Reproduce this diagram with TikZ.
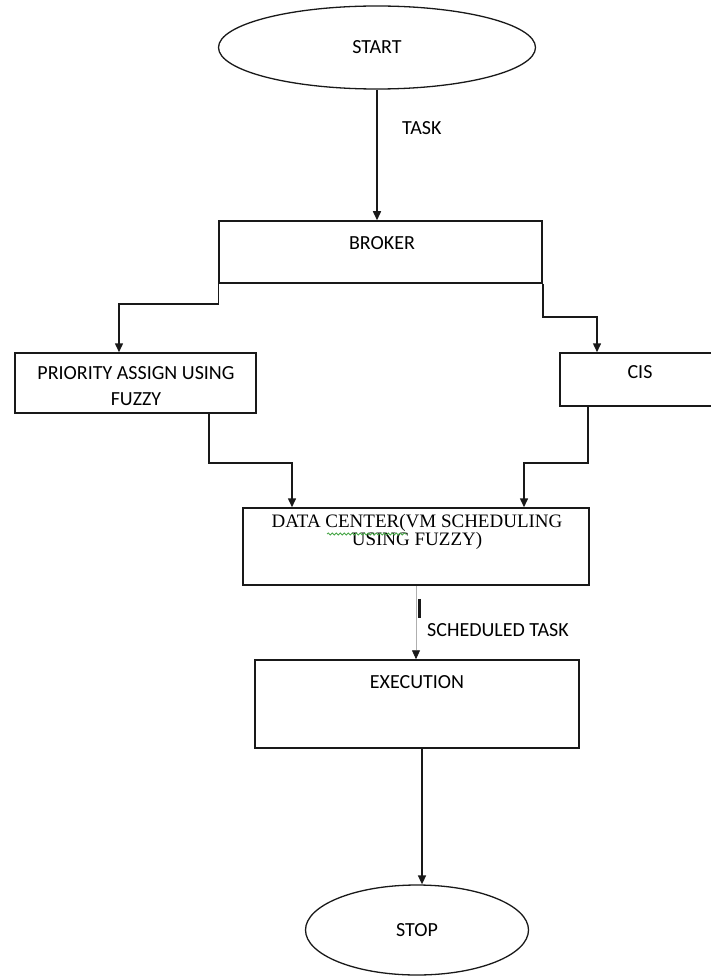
\documentclass[tikz,border=0pt]{standalone}
\usepackage{fontspec}
\setmainfont{Carlito}
\newfontfamily\dcfont{Liberation Serif}
\usetikzlibrary{arrows.meta,shapes.geometric,decorations.pathmorphing}

\definecolor{myline}{RGB}{25,25,25}
\definecolor{mygrey}{RGB}{175,175,175}
\definecolor{mygreen}{RGB}{70,165,70}

\tikzset{
  flowbox/.style={draw=myline,line width=1.5pt,rectangle,inner sep=0pt},
  termbox/.style={draw=myline,line width=1.3pt,ellipse,inner sep=0pt,
                  font=\fontsize{20}{26}\selectfont},
  flowarrow/.style={draw=myline,line width=1.5pt,-{Triangle[width=8pt,length=9pt]}},
  boxtext/.style={font=\fontsize{20}{26}\selectfont,align=center,inner sep=0pt},
}

\begin{document}
\begin{tikzpicture}[x=1pt,y=-1pt]
 \useasboundingbox (0,0) rectangle (711,976);

  % terminals
  \node[termbox,minimum width=317pt,minimum height=83pt] (start) at (377,47.5) {START};
  \node[termbox,minimum width=223pt,minimum height=90pt] (stop)  at (417,930)  {STOP};

  % boxes
  \node[flowbox,minimum width=323pt,minimum height=62pt] (broker) at (380.5,252)  {};
  \node[flowbox,minimum width=241pt,minimum height=60pt] (prio)   at (135.5,383)  {};
  \node[flowbox,minimum width=156pt,minimum height=53pt] (cis)    at (638,379.5)  {};
  \node[flowbox,minimum width=346pt,minimum height=77pt] (dc)     at (416,546.5)  {};
  \node[flowbox,minimum width=324pt,minimum height=88pt] (exec)   at (417,704)    {};

  % box texts
  \node[boxtext] (brokertxt) at (382,243) {BROKER};
  \node[boxtext] (priotxt)   at (136,386.5) {PRIORITY ASSIGN USING\\FUZZY};
  \node[boxtext] (cistxt)    at (640,372) {CIS};
  \node[boxtext,font=\dcfont\fontsize{19}{17}\selectfont] (dctxt) at (417,532)
       {DATA CENTER(VM SCHEDULING\\USING FUZZY)};
  \node[boxtext] (exectxt)   at (417,682) {EXECUTION};
  \draw[mygreen,line width=0.8pt,decorate,decoration={snake,amplitude=1pt,segment length=4pt}]
    (327,534) -- (407,534);

  % connectors
  \draw[flowarrow] (start.south) -- (start.south |- broker.north);
  \node[boxtext,anchor=west] (tasklbl) at (402,128) {TASK};
  \draw[flowarrow] (broker.south west) -- ++(0,20) -| ([xshift=-16.5pt]prio.north);
  \draw[flowarrow] (broker.south east) -- ++(0,33) -| ([xshift=-41pt]cis.north);
  \draw[flowarrow] ([xshift=73.5pt]prio.south) -- ++(0,49) -| ([xshift=-124pt]dc.north);
  \draw[flowarrow] ([xshift=-50pt]cis.south) -- ++(0,56) -| ([xshift=108pt]dc.north);
  \draw[mygrey,line width=0.8pt,-{Triangle[width=8pt,length=9pt,color=myline]}]
    (dc.south) -- (dc.south |- exec.north);
  \draw[myline,line width=3pt] ([xshift=3pt,yshift=-13pt]dc.south) -- ++(0,19);
  \node[boxtext,anchor=west] (schedlbl) at (427,630) {SCHEDULED TASK};
  \draw[flowarrow] ([xshift=5pt]exec.south) -- ([xshift=5pt]exec.south |- stop.north);

\end{tikzpicture}
\end{document}
